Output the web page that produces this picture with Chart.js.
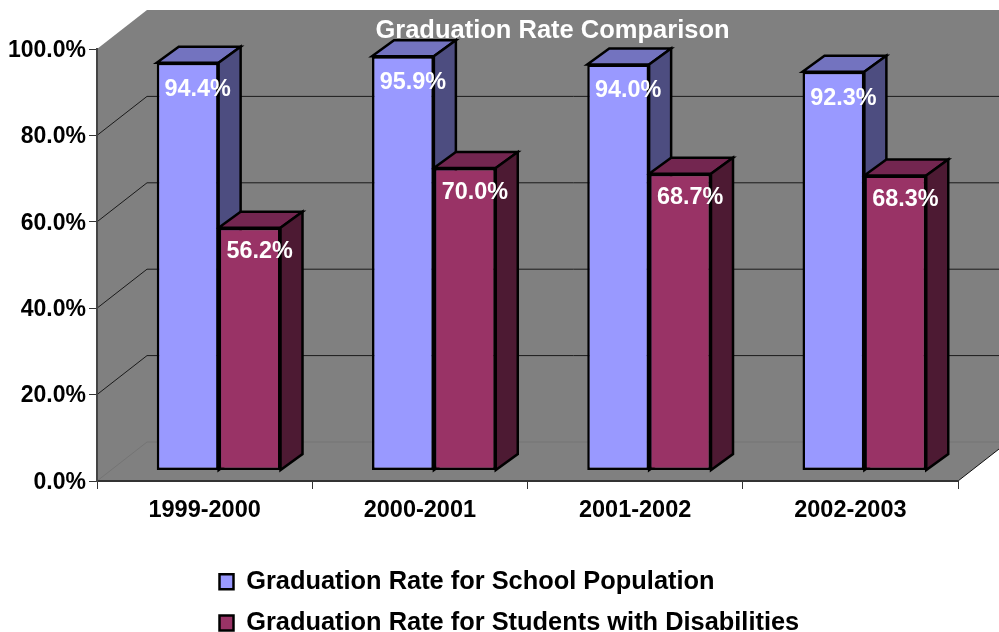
<!DOCTYPE html>
<html>
<head>
<meta charset="utf-8">
<title>Graduation Rate Comparison</title>
<script src="https://cdn.jsdelivr.net/npm/chart.js@4"></script>
<style>
    html, body { margin: 0; padding: 0; background: #fff; }
    canvas { display: block; }
</style>
</head>
<body>
<canvas id="gradChart" width="999" height="632"></canvas>
<script>
// Datos
const years = ['1999-2000', '2000-2001', '2001-2002', '2002-2003'];
const schoolRates = [94.4, 95.9, 94.0, 92.3];
const disabilityRates = [56.2, 70.0, 68.7, 68.3];
const seriesNames = ['Graduation Rate for School Population', 'Graduation Rate for Students with Disabilities'];
const chartTitle = 'Graduation Rate Comparison';

const FONT = '"Liberation Sans", Arial, sans-serif';

// Desplazamientos de la perspectiva 3D
const WALL_DX = 50, WALL_DY = 39;
const BAR_DX = 14, BAR_DY = 10.5;
const DEPTH_DX = 22, DEPTH_DY = 16;
const LABEL_DX = 10;
const LABEL_DROP = [26.5, 24];

const faceColors = [
    { top: '#7373BF', side: '#4D4D80' },
    { top: '#732650', side: '#4D1A33' }
];

function fillPoly(ctx, pts, fill, stroke, lw) {
    ctx.beginPath();
    pts.forEach(function(p, i) {
        if (i === 0) ctx.moveTo(p[0], p[1]); else ctx.lineTo(p[0], p[1]);
    });
    ctx.closePath();
    if (fill) { ctx.fillStyle = fill; ctx.fill(); }
    if (stroke) { ctx.strokeStyle = stroke; ctx.lineWidth = lw; ctx.lineJoin = 'miter'; ctx.stroke(); }
}

function line(ctx, x1, y1, x2, y2, color, lw) {
    ctx.beginPath();
    ctx.moveTo(x1, y1);
    ctx.lineTo(x2, y2);
    ctx.strokeStyle = color;
    ctx.lineWidth = lw;
    ctx.stroke();
}

const box3d = {
    id: 'box3d',
    afterLayout(chart) {
        // titulo centrado sobre la pared y leyenda apilada bajo el grafico
        chart.titleBlock.left += 25;
        chart.titleBlock.right += 25;
        const lg = chart.legend;
        const w = lg.width, h = lg.height;
        lg.left = 203.5; lg.right = 203.5 + w;
        lg.top = 553; lg.bottom = 553 + h;
    },
    beforeDraw(chart) {
        // pared, suelo y lineas de fondo
        const ctx = chart.ctx, a = chart.chartArea, y = chart.scales.y;
        ctx.save();
        fillPoly(ctx, [
            [a.left, a.top], [a.left + WALL_DX, a.top - WALL_DY], [a.right + WALL_DX, a.top - WALL_DY],
            [a.right + WALL_DX, a.bottom - WALL_DY], [a.right, a.bottom], [a.left, a.bottom]
        ], '#808080');
        y.ticks.forEach(function(t) {
            const py = y.getPixelForValue(t.value);
            if (t.value === 100) return;
            const c = t.value === 0 ? '#747474' : '#1a1a1a';
            line(ctx, a.left, py, a.left + WALL_DX, py - WALL_DY, c, 1);
            line(ctx, a.left + WALL_DX, py - WALL_DY, a.right + WALL_DX, py - WALL_DY, c, 1);
        });
        line(ctx, a.right, a.bottom, a.right + WALL_DX, a.bottom - WALL_DY, '#111', 1);
        ctx.restore();
    },
    beforeDatasetsDraw(chart) {
        // caras superior y lateral, detras de los frentes
        const ctx = chart.ctx;
        ctx.save();
        ctx.translate(BAR_DX, -BAR_DY);
        faceColors.forEach(function(colors, i) {
            chart.getDatasetMeta(i).data.forEach(function(bar) {
                const p = bar.getProps(['x', 'y', 'base', 'width'], true);
                const l = p.x - p.width / 2, r = p.x + p.width / 2;
                fillPoly(ctx, [[l, p.y], [l + DEPTH_DX, p.y - DEPTH_DY], [r + DEPTH_DX, p.y - DEPTH_DY], [r, p.y]], colors.top, '#000', 2.5);
                fillPoly(ctx, [[r, p.y], [r + DEPTH_DX, p.y - DEPTH_DY], [r + DEPTH_DX, p.base - DEPTH_DY], [r, p.base]], colors.side, '#000', 2.5);
            });
        });
        ctx.restore();
    },
    beforeDatasetDraw(chart) {
        chart.ctx.save();
        chart.ctx.translate(BAR_DX, -BAR_DY);
    },
    afterDatasetDraw(chart) {
        chart.ctx.restore();
    },
    afterDatasetsDraw(chart) {
        // etiquetas de valor
        const ctx = chart.ctx;
        ctx.save();
        ctx.font = 'bold 23.4px ' + FONT;
        ctx.fillStyle = '#fff';
        ctx.textAlign = 'center';
        ctx.textBaseline = 'middle';
        chart.data.datasets.forEach(function(ds, i) {
            chart.getDatasetMeta(i).data.forEach(function(bar, j) {
                const p = bar.getProps(['x', 'y'], true);
                ctx.fillText(ds.data[j].toFixed(1) + '%', p.x + BAR_DX + LABEL_DX, p.y - BAR_DY + LABEL_DROP[i]);
            });
        });
        ctx.restore();
    }
};

const gradCtx = document.getElementById('gradChart').getContext('2d');
const gradChart = new Chart(gradCtx, {
    type: 'bar',
    data: {
        labels: years,
        datasets: [{
            label: seriesNames[0],
            data: schoolRates,
            backgroundColor: '#9999FF',
            borderColor: '#000',
            borderWidth: 2.5,
            borderSkipped: false
        }, {
            label: seriesNames[1],
            data: disabilityRates,
            backgroundColor: '#993366',
            borderColor: '#000',
            borderWidth: 2.5,
            borderSkipped: false
        }]
    },
    options: {
        responsive: false,
        animation: false,
        categoryPercentage: 0.575,
        barPercentage: 1,
        clip: false,
        layout: {
            padding: { left: 0, right: 41, top: 0, bottom: 0 }
        },
        scales: {
            x: {
                afterFit: function(scale) { scale.height = 151; },
                border: { color: '#333', width: 2 },
                grid: { drawOnChartArea: false, drawTicks: true, tickLength: 8, color: '#333' },
                ticks: { color: '#000', padding: 7, maxRotation: 0, font: { family: FONT, size: 23.5, weight: 'bold' } }
            },
            y: {
                min: 0,
                max: 100,
                afterFit: function(scale) { scale.width = 97; },
                border: { color: '#444', width: 2 },
                grid: { drawOnChartArea: false, drawTicks: true, tickLength: 8, color: '#333' },
                ticks: {
                    stepSize: 20,
                    color: '#000',
                    padding: 3,
                    labelOffset: 1.5,
                    font: { family: FONT, size: 23, weight: 'bold' },
                    callback: function(value) { return value.toFixed(1) + '%'; }
                }
            }
        },
        plugins: {
            title: {
                display: true,
                text: chartTitle,
                color: '#fff',
                fullSize: false,
                font: { family: FONT, size: 25.5, weight: 'bold' },
                padding: { top: 16, bottom: 2.4 }
            },
            legend: {
                position: 'chartArea',
                align: 'start',
                labels: {
                    color: '#000',
                    boxWidth: 14,
                    boxHeight: 15,
                    padding: 16,
                    font: { family: FONT, size: 25.4, weight: 'bold' }
                }
            },
            tooltip: { enabled: false }
        }
    },
    plugins: [box3d]
});
</script>
</body>
</html>
